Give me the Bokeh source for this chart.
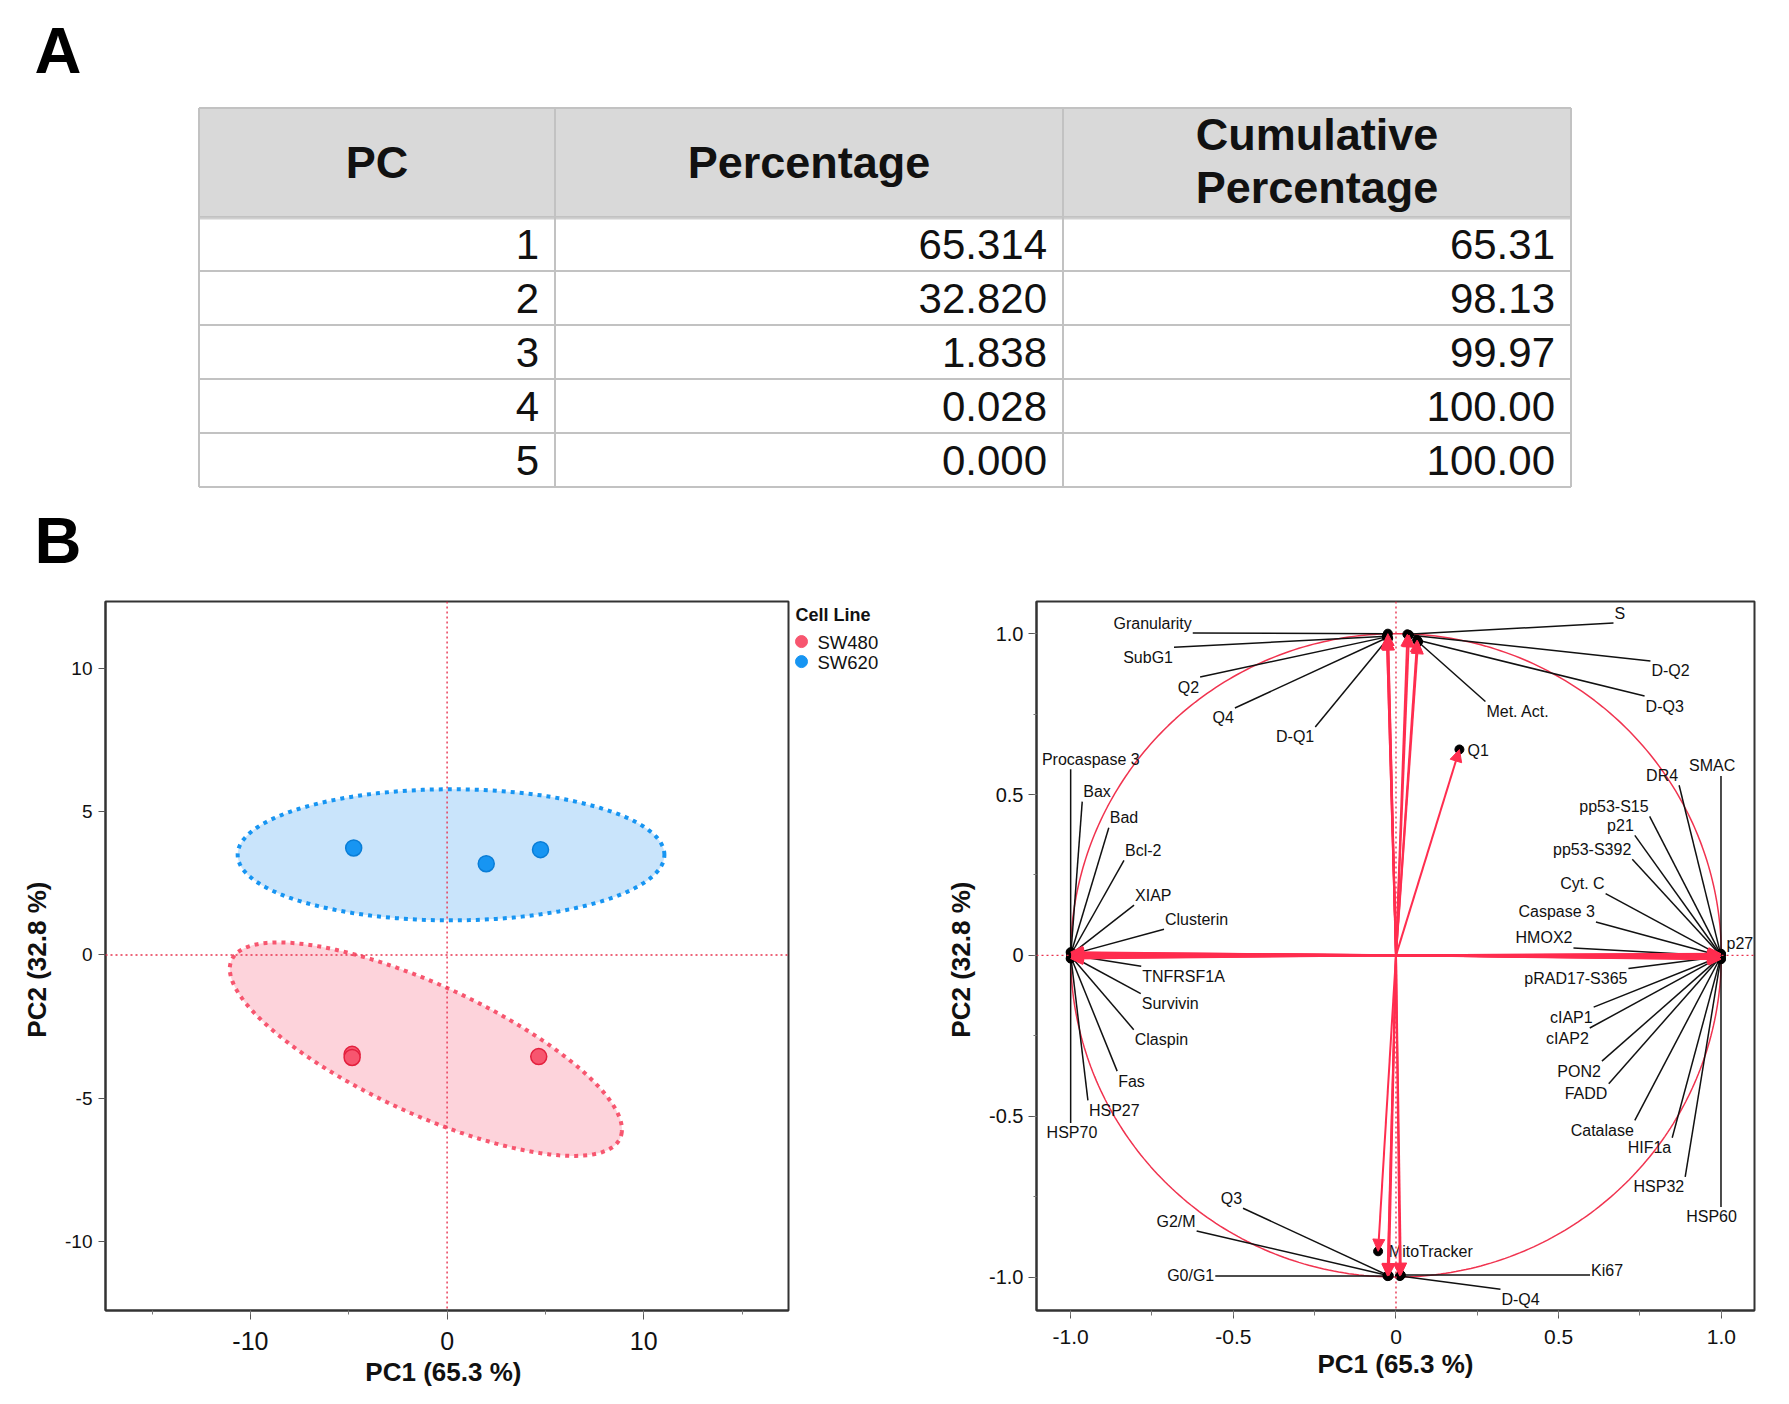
import numpy as np
from bokeh.plotting import figure
from bokeh.models import (ColumnDataSource, Range1d, Span, Arrow, NormalHead,
                          SingleIntervalTicker, CustomJSTickFormatter)
from bokeh.layouts import column, row
from bokeh.embed import file_html
from bokeh.resources import INLINE
from bokeh.core.properties import value

FONT = "Liberation Sans"

# ---------------- variance explained ----------------
pc_index = [1, 2, 3, 4, 5]
pc_percentage = [65.314, 32.820, 1.838, 0.028, 0.000]
pc_cumulative = [65.31, 98.13, 99.97, 100.00, 100.00]
table_headers = ["PC", "Percentage", "Cumulative\nPercentage"]

# ---------------- sample scores ----------------
cell_lines = ["SW480", "SW620"]
sw480_pc1 = [-4.83, -4.83, 4.66]
sw480_pc2 = [-3.47, -3.58, -3.55]
sw620_pc1 = [-4.75, 1.99, 4.75]
sw620_pc2 = [3.74, 3.19, 3.68]

# group ellipses: centre, semi-axes, rotation (degrees)
ellipse_sw480 = dict(cx=-1.08, cy=-3.29, a=10.38, b=2.36, angle=-16.6)
ellipse_sw620 = dict(cx=0.20, cy=3.50, a=10.85, b=2.29, angle=0.0)

# ---------------- variable loadings ----------------
variables = ["Granularity", "SubG1", "Q2", "Q4", "D-Q1", "S", "D-Q2", "D-Q3", "Met. Act.", "Q1",
             "Procaspase 3", "Bax", "Bad", "Bcl-2", "XIAP", "Clusterin", "TNFRSF1A", "Survivin",
             "Claspin", "Fas", "HSP27", "HSP70",
             "SMAC", "DR4", "pp53-S15", "p21", "pp53-S392", "Cyt. C", "Caspase 3", "HMOX2", "p27",
             "pRAD17-S365", "cIAP1", "cIAP2", "PON2", "FADD", "Catalase", "HIF1a", "HSP32", "HSP60",
             "Q3", "G2/M", "G0/G1", "Ki67", "D-Q4", "MitoTracker"]
load_pc1 = [-0.025, -0.028, -0.028, -0.026, -0.024, 0.035, 0.040, 0.065, 0.068, 0.195,
            -1.000, -0.999, -0.999, -0.998, -0.998, -0.997, -0.997, -0.998, -0.998, -0.999, -0.999, -1.000,
            0.999, 0.998, 0.998, 0.997, 0.997, 0.996, 0.996, 0.995, 0.999, 0.995, 0.994, 0.994,
            0.995, 0.995, 0.996, 0.997, 0.998, 0.999,
            -0.022, -0.025, -0.026, 0.015, 0.012, -0.055]
load_pc2 = [1.000, 0.992, 0.990, 0.988, 0.986, 0.998, 0.996, 0.980, 0.975, 0.640,
            0.010, 0.008, 0.006, 0.005, 0.004, 0.003, 0.000, -0.002, -0.004, -0.006, -0.008, -0.010,
            0.005, 0.004, 0.003, 0.002, 0.001, 0.000, -0.001, -0.002, -0.003, -0.004, -0.005, -0.006,
            -0.007, -0.008, -0.009, -0.010, -0.011, -0.012,
            -0.996, -0.995, -0.997, -0.994, -0.997, -0.920]

# label placement (data coordinates of label centres)
label_pos = {
    "Granularity": (-0.748, 1.033), "SubG1": (-0.762, 0.927), "Q2": (-0.638, 0.834),
    "Q4": (-0.531, 0.738), "D-Q1": (-0.310, 0.679), "S": (0.688, 1.064),
    "D-Q2": (0.844, 0.884), "D-Q3": (0.826, 0.775), "Met. Act.": (0.375, 0.758),
    "Q1": (0.253, 0.637), "Procaspase 3": (-0.938, 0.610), "Bax": (-0.919, 0.509),
    "Bad": (-0.836, 0.428), "Bcl-2": (-0.777, 0.326), "XIAP": (-0.746, 0.187),
    "Clusterin": (-0.613, 0.112), "TNFRSF1A": (-0.653, -0.065), "Survivin": (-0.694, -0.150),
    "Claspin": (-0.721, -0.262), "Fas": (-0.813, -0.391), "HSP27": (-0.866, -0.482),
    "HSP70": (-0.996, -0.552), "SMAC": (0.972, 0.589), "DR4": (0.818, 0.560),
    "pp53-S15": (0.670, 0.463), "p21": (0.690, 0.404), "pp53-S392": (0.603, 0.330),
    "Cyt. C": (0.573, 0.223), "Caspase 3": (0.494, 0.135), "HMOX2": (0.455, 0.054),
    "p27": (1.057, 0.038), "pRAD17-S365": (0.553, -0.072), "cIAP1": (0.539, -0.192),
    "cIAP2": (0.527, -0.257), "PON2": (0.563, -0.360), "FADD": (0.584, -0.430),
    "Catalase": (0.634, -0.544), "HIF1a": (0.779, -0.598), "HSP32": (0.808, -0.720),
    "HSP60": (0.970, -0.813), "Q3": (-0.506, -0.755), "G2/M": (-0.676, -0.826),
    "G0/G1": (-0.631, -0.995), "Ki67": (0.649, -0.979), "D-Q4": (0.383, -1.069),
    "MitoTracker": (0.107, -0.922),
}

# ---------------- colours ----------------
RED = "#f7566f"
RED_EDGE = "#e3203e"
RED_FILL = "#fdd3db"
BLUE = "#1795f2"
BLUE_EDGE = "#0a7dd6"
BLUE_FILL = "#c9e4fb"
ARROW_RED = "#ff2d4f"
GRID_RED = "#e8334f"
AXIS_GREY = "#333333"


def style_axes(p, xfont, yfont, xtitle, ytitle):
    for ax in (p.xaxis[0], p.yaxis[0]):
        ax.axis_line_color = AXIS_GREY
        ax.axis_line_width = 2
        ax.major_tick_line_color = "#555555"
        ax.minor_tick_line_color = "#777777"
        ax.major_tick_in = 0
        ax.minor_tick_in = 0
        ax.major_label_text_font = FONT
        ax.major_label_text_color = "#111111"
        ax.axis_label_text_font = FONT
        ax.axis_label_text_font_style = "bold"
        ax.axis_label_text_font_size = "26px"
        ax.axis_label_text_color = "#111111"
    p.xaxis[0].major_label_text_font_size = xfont
    p.yaxis[0].major_label_text_font_size = yfont
    p.xaxis[0].axis_label = xtitle
    p.yaxis[0].axis_label = ytitle
    p.grid.visible = False
    p.outline_line_color = AXIS_GREY
    p.outline_line_width = 2


def blank_canvas(width, height, x0, y0):
    """A figure with no axes whose data units are page pixels (y downwards)."""
    f = figure(width=width, height=height, x_range=Range1d(x0, x0 + width),
               y_range=Range1d(y0 + height, y0), x_axis_location=None, y_axis_location=None,
               toolbar_location=None, output_backend="svg", min_border=0, outline_line_color=None)
    f.grid.visible = False
    return f


# ================= panel A: table =================
top = blank_canvas(1789, 590, 0, 0)

col_edges = [198.5, 554.5, 1062.5, 1570.5]
row_edges = [107.5, 216.5, 270.5, 324.5, 378.5, 432.5, 486.5]

top.quad(left=col_edges[0], right=col_edges[-1], top=row_edges[0], bottom=row_edges[1],
         fill_color="#d9d9d9", line_color=None)
top.segment(x0=[col_edges[0]] * len(row_edges), x1=[col_edges[-1]] * len(row_edges),
            y0=row_edges, y1=row_edges, line_color="#c2c2c2", line_width=2)
top.segment(x0=[col_edges[0]], x1=[col_edges[-1]], y0=[row_edges[1] + 1.5], y1=[row_edges[1] + 1.5],
            line_color="#d0d0d0", line_width=2)
top.segment(x0=col_edges, x1=col_edges, y0=[row_edges[0]] * 4, y1=[row_edges[-1]] * 4,
            line_color="#c2c2c2", line_width=2)

hx, hy, ht = [], [], []
for i, h in enumerate(table_headers):
    cxm = 0.5 * (col_edges[i] + col_edges[i + 1])
    lines = h.split("\n")
    if len(lines) == 1:
        hx.append(cxm); hy.append(162); ht.append(lines[0])
    else:
        hx += [cxm, cxm]; hy += [134, 187]; ht += lines
top.text(x=hx, y=hy, text=ht, text_font=value(FONT), text_font_style="bold",
         text_font_size="45px", text_align="center", text_baseline="middle", text_color="#111111")

row_mid = [0.5 * (row_edges[k + 1] + row_edges[k + 2]) for k in range(len(pc_index))]
cells = [[str(v) for v in pc_index],
         ["%.3f" % v for v in pc_percentage],
         ["%.2f" % v for v in pc_cumulative]]
for ci, col_vals in enumerate(cells):
    top.text(x=[col_edges[ci + 1] - 16] * len(col_vals), y=row_mid, text=col_vals,
             text_font=value(FONT), text_font_size="42px", text_align="right",
             text_baseline="middle", text_color="#111111")

top.text(x=[34, 34], y=[50, 540], text=["A", "B"], text_font=value(FONT), text_font_style="bold",
         text_font_size="65px", text_align="left", text_baseline="middle", text_color="#000000")

# ================= panel B left: score plot =================
left = figure(width=792, height=814, x_range=Range1d(-17.37, 17.36), y_range=Range1d(-12.42, 12.35),
              toolbar_location=None, output_backend="svg",
              min_border_left=105, min_border_right=4, min_border_top=11, min_border_bottom=93)
left.background_fill_color = "white"


def ellipse_outline(e, n=200):
    t = np.linspace(0, 2 * np.pi, n)
    th = np.deg2rad(e["angle"])
    x = e["cx"] + e["a"] * np.cos(t) * np.cos(th) - e["b"] * np.sin(t) * np.sin(th)
    y = e["cy"] + e["a"] * np.cos(t) * np.sin(th) + e["b"] * np.sin(t) * np.cos(th)
    return x, y


bx, by = ellipse_outline(ellipse_sw620)
left.patch(bx, by, fill_color=BLUE_FILL, line_color=BLUE, line_width=4, line_dash="4 5")
rx, ry = ellipse_outline(ellipse_sw480)
left.patch(rx, ry, fill_color=RED_FILL, line_color=RED, line_width=4, line_dash="4 5")

left.scatter(sw480_pc1, sw480_pc2, size=16, fill_color=RED, line_color=RED_EDGE, line_width=1.5)
left.scatter(sw620_pc1, sw620_pc2, size=16, fill_color=BLUE, line_color=BLUE_EDGE, line_width=1.5)

for dim in ("width", "height"):
    left.add_layout(Span(location=0, dimension=dim, line_color=GRID_RED, line_width=1.4, line_dash="2 3"))

int_fmt = CustomJSTickFormatter(code="return tick.toFixed(0);")
left.xaxis[0].ticker = SingleIntervalTicker(interval=10, num_minor_ticks=2)
left.yaxis[0].ticker = SingleIntervalTicker(interval=5, num_minor_ticks=0)
left.xaxis[0].formatter = int_fmt
left.yaxis[0].formatter = int_fmt
style_axes(left, "25px", "19px", "PC1  (65.3 %)", "PC2  (32.8 %)")
left.xaxis[0].major_tick_out = 9
left.xaxis[0].minor_tick_out = 4
left.xaxis[0].major_label_standoff = 12
left.xaxis[0].axis_label_standoff = 4
left.yaxis[0].major_tick_out = 7
left.yaxis[0].minor_tick_out = 0
left.yaxis[0].major_label_standoff = 6
left.yaxis[0].axis_label_standoff = 10

# ================= legend strip between the two panels =================
leg = blank_canvas(108, 814, 792, 590)
leg.text(x=[795], y=[606], text=["Cell Line"], text_font=value(FONT), text_font_style="bold",
         text_font_size="18px", text_align="left", text_baseline="middle", text_color="#111111")
leg_y = [636, 659]
leg.scatter(x=[801, 801], y=leg_y, size=12, color=[RED, BLUE])
leg.text(x=[817, 817], y=[y + 1.5 for y in leg_y], text=cell_lines, text_font=value(FONT),
         text_font_size="18.5px", text_align="left", text_baseline="middle", text_color="#111111")

# ================= panel B right: loading plot =================
right = figure(width=889, height=814, x_range=Range1d(-1.105, 1.102), y_range=Range1d(-1.104, 1.100),
               toolbar_location=None, output_backend="svg",
               min_border_left=136, min_border_right=35, min_border_top=11, min_border_bottom=94)
right.background_fill_color = "white"

for dim in ("width", "height"):
    right.add_layout(Span(location=0, dimension=dim, line_color=GRID_RED, line_width=1.4, line_dash="2 3"))

theta = np.linspace(0, 2 * np.pi, 400)
right.line(np.cos(theta), np.sin(theta), line_color="#f0334f", line_width=1.5)

# label leader lines: from nearest point of the label box to the loading point
_WID = dict(zip("ABCDEFGHIJKLMNOPQRSTUVWXYZ",
                [667, 667, 722, 722, 667, 611, 778, 722, 278, 500, 667, 556, 833, 722, 778, 667, 778,
                 722, 667, 611, 722, 667, 944, 667, 667, 611]))
_WID.update(dict(zip("abcdefghijklmnopqrstuvwxyz",
                     [556, 556, 500, 556, 556, 278, 556, 556, 222, 222, 500, 222, 833, 556, 556, 556,
                      556, 333, 500, 278, 556, 500, 722, 500, 500, 500])))
_WID.update({" ": 278, ".": 278, "-": 333, "/": 278})


def text_px(s, size):
    return sum(_WID.get(ch, 556) for ch in s) * size / 1000.0


PX_X = 718 / (1.102 + 1.105)
PX_Y = 709 / (1.100 + 1.104)
lab_x, lab_y, sx0, sy0, sx1, sy1 = [], [], [], [], [], []
for name, px, py in zip(variables, load_pc1, load_pc2):
    cx, cy = label_pos[name]
    lab_x.append(cx); lab_y.append(cy)
    hw = (text_px(name, 16) / 2 + 1) / PX_X
    hh = 10 / PX_Y
    qx = min(max(px, cx - hw), cx + hw)
    qy = min(max(py, cy - hh), cy + hh)
    if np.hypot((px - qx) * PX_X, (py - qy) * PX_Y) > 14:
        sx0.append(qx); sy0.append(qy); sx1.append(px); sy1.append(py)

right.segment(x0=sx0, y0=sy0, x1=sx1, y1=sy1, line_color="#111111", line_width=1.5)
right.scatter(load_pc1, load_pc2, size=9, color="#000000")

arrow_src = ColumnDataSource(dict(x0=[0.0] * len(variables), y0=[0.0] * len(variables),
                                  x1=load_pc1, y1=load_pc2))
right.add_layout(Arrow(end=NormalHead(size=12, fill_color=ARROW_RED, line_color=ARROW_RED),
                       x_start="x0", y_start="y0", x_end="x1", y_end="y1", source=arrow_src,
                       line_color=ARROW_RED, line_width=2))

right.text(x=lab_x, y=lab_y, text=variables, text_font=value(FONT), text_font_size="16px",
           text_align="center", text_baseline="middle", text_color="#111111")

fmt = CustomJSTickFormatter(code="return Math.abs(tick) < 1e-9 ? '0' : tick.toFixed(1);")
right.xaxis[0].ticker = SingleIntervalTicker(interval=0.5, num_minor_ticks=2)
right.yaxis[0].ticker = SingleIntervalTicker(interval=0.5, num_minor_ticks=2)
right.xaxis[0].formatter = fmt
right.yaxis[0].formatter = fmt
style_axes(right, "21px", "20px", "PC1 (65.3 %)", "PC2  (32.8 %)")
right.xaxis[0].major_tick_out = 8
right.xaxis[0].minor_tick_out = 5
right.xaxis[0].major_label_standoff = 11
right.xaxis[0].axis_label_standoff = 2
right.yaxis[0].major_tick_out = 8
right.yaxis[0].minor_tick_out = 3
right.yaxis[0].major_label_standoff = 5
right.yaxis[0].axis_label_standoff = 10

layout = column(top, row(left, leg, right))
open("out.html", "w").write(file_html(layout, INLINE))
